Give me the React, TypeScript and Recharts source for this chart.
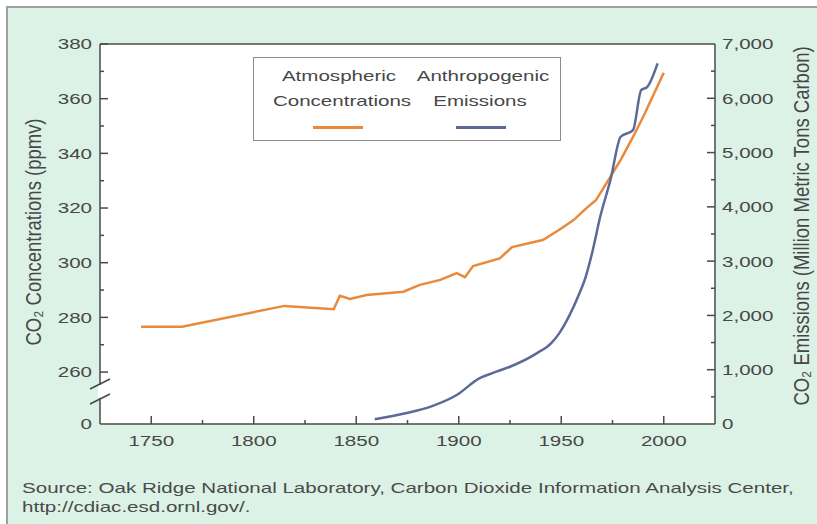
import React from 'react'
import { LineChart, Line, CartesianGrid, XAxis, YAxis, Legend, ReferenceLine, Label } from 'recharts'

// atmospheric CO2 (ppmv)
const concYears = [1745, 1765, 1815, 1839, 1842, 1847, 1855, 1873, 1881, 1891, 1899, 1903, 1907, 1920, 1926, 1941, 1950, 1956, 1962, 1967, 1972, 1979, 1985, 1990, 2000]
const concValues = [276.6, 276.6, 284.2, 283, 287.9, 286.7, 288.2, 289.4, 291.9, 293.7, 296.2, 294.7, 298.8, 301.6, 305.7, 308.3, 312.5, 315.6, 319.8, 323, 329, 337.6, 346, 353.4, 369.5]

// anthropogenic emissions (million metric tons carbon)
const emisYears = [1859, 1874, 1887, 1899, 1910, 1917, 1925, 1938, 1945, 1949, 1954, 1958, 1962, 1965, 1969, 1974, 1979, 1985, 1989, 1992, 1997]
const emisValues = [86, 197, 330, 534, 841, 945, 1055, 1302, 1486, 1670, 2000, 2330, 2720, 3144, 3817, 4494, 5291, 5414, 6151, 6212, 6643]

const xTicks = [1725, 1750, 1775, 1800, 1825, 1850, 1875, 1900, 1925, 1950, 1975, 2000, 2025]
const leftTicks = [241, 260, 270, 280, 290, 300, 310, 320, 330, 340, 350, 360, 370, 380]
const leftLabels = ['0', '260', '', '280', '', '300', '', '320', '', '340', '', '360', '', '380']
const rightTicks = [0, 500, 1000, 1500, 2000, 2500, 3000, 3500, 4000, 4500, 5000, 5500, 6000, 6500, 7000]

const concData = concYears.map((year, i) => ({ year, ppmv: concValues[i] }))
const emisData = emisYears.map((year, i) => ({ year, tons: emisValues[i] }))

const PLOT_LEFT = 100
const PLOT_RIGHT = 715
const PLOT_BOTTOM = 424
const SX = 1.37
const AXIS = '#4a4a4a'
const TEXT = '#474747'
const ORANGE = '#e98a3b'
const BLUE = '#5b6a96'
const FONT = '"Liberation Sans", Arial, sans-serif'

const WideText = ({ x, y, anchor, children }: any) => (
  <text
    transform={`translate(${x},${y}) scale(${SX},1)`}
    textAnchor={anchor}
    dy="0.36em"
    fontSize={15}
    fontFamily={FONT}
    fill={TEXT}
  >
    {children}
  </text>
)

const LeftTick = (props: any) => {
  const { y, payload, index } = props
  const label = leftLabels[index]
  const v = payload.value
  return (
    <g>
      {v !== 241 && (
        <line x1={PLOT_LEFT} x2={PLOT_LEFT + (label ? 8 : 4)} y1={y} y2={y} stroke={AXIS} strokeWidth={1.5} />
      )}
      {label && <WideText x={PLOT_LEFT - 8} y={y} anchor="end">{label}</WideText>}
      {v === 241 && (
        <g stroke={AXIS} strokeWidth={1.6}>
          <line x1={PLOT_LEFT} x2={PLOT_LEFT} y1={385} y2={398} stroke="#ffffff" strokeWidth={4} />
          <line x1={90} y1={389} x2={110} y2={379} />
          <line x1={90} y1={404} x2={110} y2={394} />
        </g>
      )}
    </g>
  )
}

const RightTick = (props: any) => {
  const { y, payload } = props
  const v = payload.value
  const major = v % 1000 === 0
  return (
    <g>
      {v !== 0 && v !== 7000 && (
        <line x1={PLOT_RIGHT} x2={PLOT_RIGHT - (major ? 8 : 4)} y1={y} y2={y} stroke={AXIS} strokeWidth={1.5} />
      )}
      {major && <WideText x={PLOT_RIGHT + 7} y={y} anchor="start">{v.toLocaleString('en-US')}</WideText>}
    </g>
  )
}

const BottomTick = (props: any) => {
  const { x, payload } = props
  const v = payload.value
  const major = v % 50 === 0
  if (v === 1725 || v === 2025) return <g />
  return (
    <g>
      <line x1={x} x2={x} y1={PLOT_BOTTOM} y2={PLOT_BOTTOM - (major ? 8 : 4)} stroke={AXIS} strokeWidth={1.5} />
      {major && <WideText x={x} y={PLOT_BOTTOM + 17} anchor="middle">{v}</WideText>}
    </g>
  )
}

const wide = (left: number, top: number, text: string) => (
  <div
    style={{
      position: 'absolute',
      left,
      top,
      transform: `translateX(-50%) scaleX(${SX})`,
      whiteSpace: 'nowrap',
      fontSize: 15,
      lineHeight: '15px',
      color: TEXT,
    }}
  >
    {text}
  </div>
)

const LegendBox = () => (
  <div
    style={{
      position: 'relative',
      width: 308,
      height: 84,
      boxSizing: 'border-box',
      border: '1.5px solid #8c8c8c',
      background: '#ffffff',
      fontFamily: FONT,
    }}
  >
    {wide(85, 10, 'Atmospheric')}
    {wide(88, 35, 'Concentrations')}
    {wide(229, 10, 'Anthropogenic')}
    {wide(226, 35, 'Emissions')}
    <div style={{ position: 'absolute', left: 59, top: 68, width: 50, height: 3, background: ORANGE }} />
    <div style={{ position: 'absolute', left: 202, top: 68, width: 50, height: 3, background: BLUE }} />
  </div>
)

export default function App() {
  return (
    <div style={{ position: 'absolute', left: 0, top: 0, width: 817, height: 524, background: '#ffffff', fontFamily: FONT }}>
      <div
        style={{
          position: 'absolute',
          left: 6,
          top: 6,
          width: 811,
          height: 518,
          background: '#dcf2e6',
          borderTop: '2px solid #9aa3a0',
          borderLeft: '2px solid #9aa3a0',
          boxSizing: 'border-box',
        }}
      />
      <div style={{ position: 'absolute', left: 0, top: 0 }}>
        <LineChart width={817} height={470} margin={{ top: 44, right: 0, bottom: 6, left: 0 }}>
          <CartesianGrid yAxisId="left" fill="#ffffff" horizontal={false} vertical={false} />
          <XAxis
            dataKey="year"
            type="number"
            domain={[1725, 2025]}
            ticks={xTicks}
            interval={0}
            height={40}
            axisLine={{ stroke: AXIS, strokeWidth: 1.5 }}
            tickLine={false}
            tick={BottomTick}
            allowDataOverflow
          />
          <YAxis
            yAxisId="left"
            orientation="left"
            type="number"
            domain={[241, 380]}
            ticks={leftTicks}
            interval={0}
            width={100}
            axisLine={{ stroke: AXIS, strokeWidth: 1.5 }}
            tickLine={false}
            tick={LeftTick}
            allowDataOverflow
          >
            <Label
              content={() => (
                <text
                  transform={`translate(33,232) scale(1.15,1) rotate(-90)`}
                  textAnchor="middle"
                  dy="0.36em"
                  fontSize={18.5}
                  fontFamily={FONT}
                  fill={TEXT}
                >
                  CO₂ Concentrations (ppmv)
                </text>
              )}
            />
          </YAxis>
          <YAxis
            yAxisId="right"
            orientation="right"
            type="number"
            domain={[0, 7000]}
            ticks={rightTicks}
            interval={0}
            width={102}
            axisLine={{ stroke: AXIS, strokeWidth: 1.5 }}
            tickLine={false}
            tick={RightTick}
            allowDataOverflow
          >
            <Label
              content={() => (
                <text
                  transform={`translate(801,226) scale(1.15,1) rotate(-90)`}
                  textAnchor="middle"
                  dy="0.36em"
                  fontSize={18.5}
                  fontFamily={FONT}
                  fill={TEXT}
                >
                  CO₂ Emissions (Million Metric Tons Carbon)
                </text>
              )}
            />
          </YAxis>
          <ReferenceLine yAxisId="left" y={380} stroke={AXIS} strokeWidth={1.5} />
          <Legend
            layout="vertical"
            align="center"
            verticalAlign="middle"
            wrapperStyle={{ left: 253, top: 57, width: 308, height: 84 }}
            content={() => <LegendBox />}
          />
          <Line
            data={concData}
            dataKey="ppmv"
            yAxisId="left"
            type="linear"
            stroke={ORANGE}
            strokeWidth={2.5}
            dot={false}
            isAnimationActive={false}
          />
          <Line
            data={emisData}
            dataKey="tons"
            yAxisId="right"
            type="monotone"
            stroke={BLUE}
            strokeWidth={2.5}
            dot={false}
            isAnimationActive={false}
          />
        </LineChart>
      </div>
      <div
        style={{
          position: 'absolute',
          left: 22,
          top: 478,
          fontSize: 15,
          lineHeight: '19px',
          color: '#4a4a4a',
          whiteSpace: 'nowrap',
          transform: `scaleX(${SX})`,
          transformOrigin: 'left top',
        }}
      >
        <div>Source: Oak Ridge National Laboratory, Carbon Dioxide Information Analysis Center,</div>
        <div>http://cdiac.esd.ornl.gov/.</div>
      </div>
    </div>
  )
}
